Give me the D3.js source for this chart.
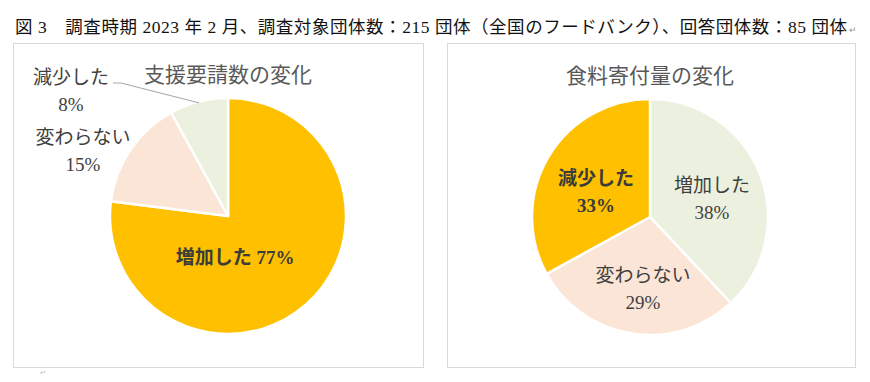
<!DOCTYPE html>
<html>
<head>
<meta charset="utf-8">
<script src="https://cdn.jsdelivr.net/npm/d3@7"></script>
<style>
  body { margin: 0; background: #fff; }
  svg { display: block; }
  text { font-family: "Liberation Serif", "Noto Sans CJK JP", serif; }
</style>
</head>
<body>
<div class="chart"></div>
<script>
// data
var categories = ["増加した", "変わらない", "減少した"];
var requestValues = [77, 15, 8];    // 支援要請数の変化 (%)
var donationValues = [38, 29, 33];  // 食料寄付量の変化 (%)
var chartTitles = ["支援要請数の変化", "食料寄付量の変化"];
var headerText = "図 3　調査時期 2023 年 2 月、調査対象団体数：215 団体（全国のフードバンク）、回答団体数：85 団体";

var svgWidth = 870;
var svgHeight = 382;

var orange = "#FFC000", peach = "#FBE5D6", green = "#EBF1DE";

var svg = d3.select(".chart")
  .append("svg")
  .attr("width", svgWidth)
  .attr("height", svgHeight);

// header line
svg.append("text")
  .attr("x", 15)
  .attr("y", 27)
  .attr("dominant-baseline", "central")
  .style("font-size", "17.5px")
  .style("fill", "#111")
  .attr("textLength", 832)
  .attr("lengthAdjust", "spacing")
  .text(headerText);
svg.append("text")
  .attr("x", 849)
  .attr("y", 30)
  .attr("dominant-baseline", "central")
  .style("font-size", "9px")
  .style("fill", "#999")
  .text("↵");
svg.append("text")
  .attr("x", 40)
  .attr("y", 373)
  .attr("dominant-baseline", "central")
  .style("font-size", "7px")
  .style("fill", "#bbb")
  .text("↵");

// panels: box, pie centre, colours, label layout (offsets from pie centre)
var panels = [
  {
    title: chartTitles[0], values: requestValues,
    colors: [orange, peach, green],
    box: [13, 43, 410, 324], cx: 228, cy: 216,
    labels: [
      { lines: ["増加した 77%"], dx: 7, dy: 41, bold: true },
      { lines: ["変わらない", "15%"], dx: -145, dy: -79 },
      { lines: ["減少した", "8%"], dx: -157, dy: -139, leader: true }
    ]
  },
  {
    title: chartTitles[1], values: donationValues,
    colors: [green, peach, orange],
    box: [447, 43, 408, 324], cx: 650, cy: 217,
    labels: [
      { lines: ["増加した", "38%"], dx: 62, dy: -32 },
      { lines: ["変わらない", "29%"], dx: -7, dy: 58 },
      { lines: ["減少した", "33%"], dx: -54, dy: -39, bold: true }
    ]
  }
];

var radius = 118;
var pie = d3.pie().sort(null).value(d => d.value);
var arc = d3.arc().innerRadius(0).outerRadius(radius);

panels.forEach(function(p) {
  var data = categories.map((c, i) => ({ name: c, value: p.values[i] }));
  var color = d3.scaleOrdinal().domain(categories).range(p.colors);

  svg.append("rect")
    .attr("x", p.box[0] + 0.5)
    .attr("y", p.box[1] + 0.5)
    .attr("width", p.box[2])
    .attr("height", p.box[3])
    .attr("fill", "#fff")
    .attr("stroke", "#d9d9d9")
    .attr("stroke-width", 1);

  var g = svg.append("g")
    .attr("transform", `translate(${p.cx}, ${p.cy})`);

  g.append("text")
    .attr("x", 0)
    .attr("y", -141)
    .attr("text-anchor", "middle")
    .attr("dominant-baseline", "central")
    .style("font-size", "21px")
    .style("fill", "#595959")
    .text(p.title);

  var arcs = pie(data);

  g.selectAll("path")
    .data(arcs)
    .enter()
    .append("path")
    .attr("d", arc)
    .attr("fill", d => color(d.data.name))
    .attr("stroke", "#fff")
    .attr("stroke-width", 2.5)
    .attr("stroke-linejoin", "round");

  p.labels.forEach(function(lab, i) {
    var t = g.append("text")
      .attr("text-anchor", "middle")
      .style("font-size", "19px")
      .style("font-weight", lab.bold ? "bold" : "normal")
      .style("fill", lab.bold ? "#3b3b3b" : "#404040");
    lab.lines.forEach(function(line, j) {
      t.append("tspan")
        .attr("x", lab.dx)
        .attr("y", lab.dy + j * 27)
        .attr("dominant-baseline", "central")
        .text(line);
    });

    if (lab.leader) {
      // leader line from the label to the slice's outer edge
      var a = (arcs[i].startAngle + arcs[i].endAngle) / 2;
      var ex = Math.sin(a) * radius * 0.99;
      var ey = -Math.cos(a) * radius * 0.99;
      var sx = lab.dx + 42;
      var sy = lab.dy + 6;
      g.append("path")
        .attr("d", `M${sx},${sy}L${sx + 8},${sy}L${ex},${ey}`)
        .attr("fill", "none")
        .attr("stroke", "#a6a6a6")
        .attr("stroke-width", 1);
    }
  });
});
</script>
</body>
</html>
